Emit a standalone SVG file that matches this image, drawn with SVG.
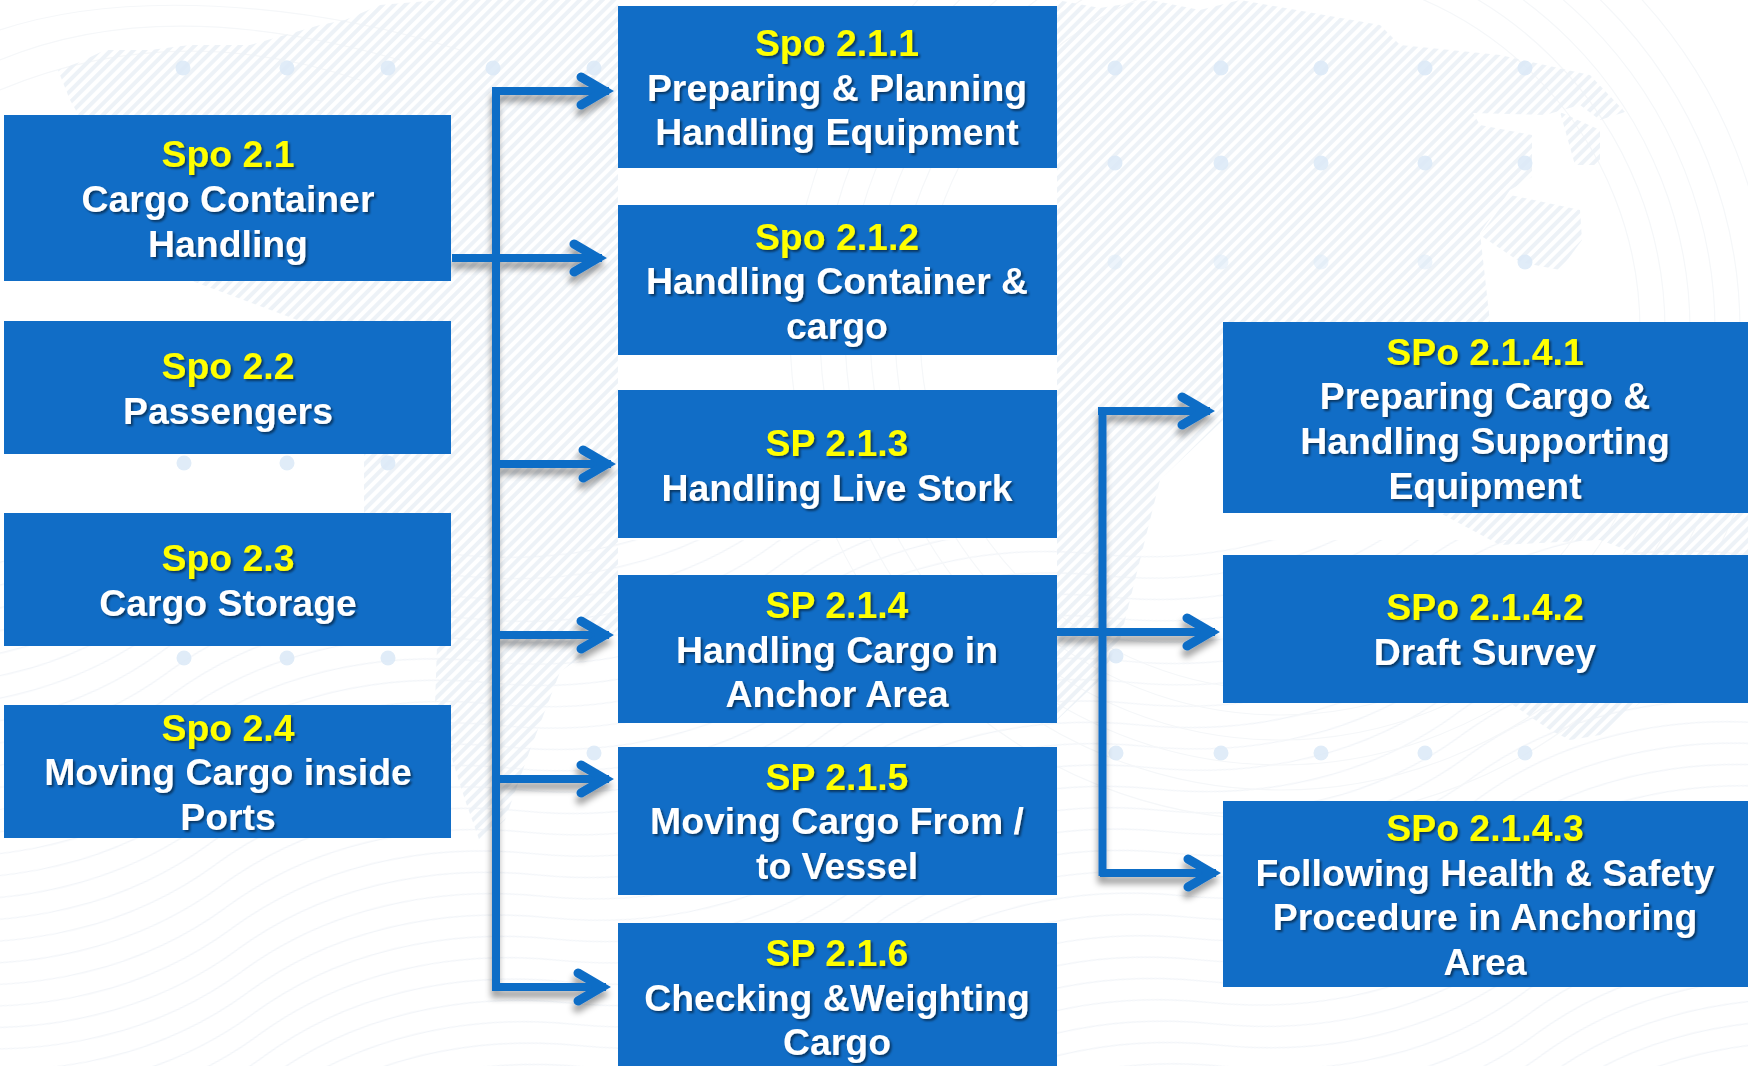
<svg xmlns="http://www.w3.org/2000/svg" width="1748" height="1066" viewBox="0 0 1748 1066">
<style>
.box{fill:#116dc6}
.t{font-family:"Liberation Sans",Arial,sans-serif;font-weight:700;font-size:37.4px;text-anchor:middle;fill:#fff;filter:url(#ts)}
.y{fill:#ffff00}
.l{fill:none;stroke:#116dc6;stroke-width:8;marker-end:url(#arr)}
.tr{fill:none;stroke:#116dc6;stroke-width:8}
.d{fill:#dbe9f7;opacity:.85}
.w{fill:none;stroke:#f1f4f8;stroke-width:1.2}
</style>
<defs>
<filter id="ts" x="-5%" y="-20%" width="110%" height="140%"><feDropShadow dx="2" dy="2" stdDeviation="1" flood-color="#000" flood-opacity="0.5"/></filter>
<filter id="cs" x="-5%" y="-5%" width="110%" height="110%"><feDropShadow dx="-1" dy="7" stdDeviation="3" flood-color="#000" flood-opacity="0.36"/></filter>
<filter id="bl"><feGaussianBlur stdDeviation="0.7"/></filter>
<marker id="arr" markerUnits="userSpaceOnUse" markerWidth="54" markerHeight="50" refX="41" refY="25" orient="auto" overflow="visible">
<path d="M13 11 L37 25 L13 39" fill="none" stroke="#116dc6" stroke-width="9" stroke-linecap="round"/>
</marker>
<pattern id="hatch" width="8" height="8" patternUnits="userSpaceOnUse" patternTransform="rotate(-45)">
<rect width="8" height="4" fill="#edf2f7"/>
</pattern>
<pattern id="wave" width="620" height="66" patternUnits="userSpaceOnUse" patternTransform="rotate(-14)">
<path class="w" d="M0 11 C100 -30 210 -25 310 11 S520 52 620 11"/>
<path class="w" d="M0 33 C100 -8 210 -3 310 33 S520 74 620 33"/>
<path class="w" d="M0 55 C100 14 210 19 310 55 S520 96 620 55"/>
<path class="w" d="M0 77 C100 36 210 41 310 77 S520 118 620 77"/>
<path class="w" d="M0 -11 C100 -52 210 -47 310 -11 S520 30 620 -11"/>
</pattern>
</defs>
<g id="background">
<rect width="1748" height="1066" fill="#fff"/>
<rect y="540" width="1748" height="526" fill="url(#wave)"/>
<g fill="none" stroke="#f5f7f9" stroke-width="1.2">
<circle cx="1280" cy="330" r="360"/><circle cx="1280" cy="330" r="385"/><circle cx="1280" cy="330" r="410"/><circle cx="1280" cy="330" r="435"/><circle cx="1280" cy="330" r="460"/><circle cx="1280" cy="330" r="490"/>
<path d="M0 60 C120 10 260 20 400 60"/><path d="M0 90 C120 40 240 40 360 80"/><path d="M0 30 C120 -10 300 0 460 50"/>
</g>
<g fill="url(#hatch)" filter="url(#bl)">
<path d="M58 70 L80 62 L105 50 L150 50 L190 45 L250 45 L320 25 L345 20 L380 5 L440 0 L618 0 L618 630 L560 672 L530 750 L505 820 L480 842 L465 800 L435 705 L437 646 L364 513 L364 454 L410 400 L410 321 L300 321 L192 281 L190 250 L120 180 L90 135 L70 100Z"/>
<path d="M1057 0 L1100 8 L1150 0 L1200 10 L1240 0 L1380 25 L1400 45 L1500 55 L1590 75 L1625 112 L1600 120 L1580 105 L1545 115 L1473 113 L1480 125 L1532 135 L1532 177 L1510 190 L1480 233 L1490 322 L1223 322 L1223 420 L1160 480 L1120 640 L1100 680 L1057 720Z"/>
<path d="M1560 112 L1600 130 L1600 165 L1575 165Z"/>
<path d="M1510 195 L1580 210 L1582 240 L1560 270 L1520 262 L1480 235Z"/>
<path d="M1440 513 L1748 513 L1748 555 L1640 555 L1600 540 L1500 545Z"/>
<path d="M1510 703 L1640 703 L1600 735 L1570 740 L1550 730Z"/>
</g>
<g class="d">
<circle cx="183" cy="68" r="7.5"/><circle cx="287" cy="68" r="7.5"/><circle cx="388" cy="68" r="7.500"/><circle cx="493" cy="68" r="7.5"/>
<circle cx="594" cy="68" r="7.5"/>
<circle cx="1115" cy="68" r="7.5"/><circle cx="1221" cy="68" r="7.5"/><circle cx="1321" cy="68" r="7.5"/><circle cx="1425" cy="68" r="7.5"/><circle cx="1525" cy="68" r="7.5"/>
<circle cx="1115" cy="163" r="7.5"/><circle cx="1221" cy="163" r="7.5"/><circle cx="1321" cy="163" r="7.5"/><circle cx="1425" cy="163" r="7.5"/><circle cx="1525" cy="163" r="7.5"/>
<circle cx="1115" cy="262" r="7.5" opacity=".6"/><circle cx="1221" cy="262" r="7.5" opacity=".6"/><circle cx="1321" cy="262" r="7.5" opacity=".6"/><circle cx="1425" cy="262" r="7.5" opacity=".6"/><circle cx="1525" cy="262" r="7.5"/>
<circle cx="184" cy="463" r="7.5"/><circle cx="287" cy="463" r="7.5"/><circle cx="388" cy="463" r="7.5"/>
<circle cx="184" cy="658" r="7.5"/><circle cx="287" cy="658" r="7.5"/><circle cx="388" cy="658" r="7.5"/>
<circle cx="594" cy="753" r="7.5"/><circle cx="1116" cy="656" r="7.5"/><circle cx="1116" cy="753" r="7.5"/>
<circle cx="1221" cy="753" r="7.5"/><circle cx="1321" cy="753" r="7.5"/><circle cx="1425" cy="753" r="7.5"/><circle cx="1525" cy="753" r="7.5"/>
</g>
</g>
<g id="connectors" filter="url(#cs)">
<path class="tr" d="M496 87 V991"/>
<path class="l" d="M492 91 H609"/>
<path class="l" d="M452 258 H602"/>
<path class="l" d="M500 464 H611"/>
<path class="l" d="M500 635 H609"/>
<path class="l" d="M500 779 H609"/>
<path class="l" d="M492 987 H606"/>
<path class="tr" d="M1102.500 407 V876"/>
<path class="l" d="M1098 411 H1210"/>
<path class="l" d="M1057 632 H1215"/>
<path class="l" d="M1100 873 H1216"/>
</g>
<g id="spo-2-1"><rect class="box" x="4" y="115" width="447" height="166"/><text class="t y" x="228" y="167">Spo 2.1</text><text class="t" x="228" y="212">Cargo Container</text><text class="t" x="228" y="257">Handling</text></g>
<g id="spo-2-2"><rect class="box" x="4" y="321" width="447" height="133"/><text class="t y" x="228" y="379">Spo 2.2</text><text class="t" x="228" y="424">Passengers</text></g>
<g id="spo-2-3"><rect class="box" x="4" y="513" width="447" height="133"/><text class="t y" x="228" y="571">Spo 2.3</text><text class="t" x="228" y="616">Cargo Storage</text></g>
<g id="spo-2-4"><rect class="box" x="4" y="705" width="447" height="133"/><text class="t y" x="228" y="741">Spo 2.4</text><text class="t" x="228" y="785">Moving Cargo inside</text><text class="t" x="228" y="830">Ports</text></g>
<g id="spo-2-1-1"><rect class="box" x="618" y="6" width="439" height="162"/><text class="t y" x="837" y="56">Spo 2.1.1</text><text class="t" x="837" y="101">Preparing &amp; Planning</text><text class="t" x="837" y="145">Handling Equipment</text></g>
<g id="spo-2-1-2"><rect class="box" x="618" y="205" width="439" height="150"/><text class="t y" x="837" y="250">Spo 2.1.2</text><text class="t" x="837" y="294">Handling Container &amp;</text><text class="t" x="837" y="339">cargo</text></g>
<g id="sp-2-1-3"><rect class="box" x="618" y="390" width="439" height="148"/><text class="t y" x="837" y="456">SP 2.1.3</text><text class="t" x="837" y="501">Handling Live Stork</text></g>
<g id="sp-2-1-4"><rect class="box" x="618" y="575" width="439" height="148"/><text class="t y" x="837" y="618">SP 2.1.4</text><text class="t" x="837" y="663">Handling Cargo in</text><text class="t" x="837" y="707">Anchor Area</text></g>
<g id="sp-2-1-5"><rect class="box" x="618" y="747" width="439" height="148"/><text class="t y" x="837" y="790">SP 2.1.5</text><text class="t" x="837" y="834">Moving Cargo From /</text><text class="t" x="837" y="879">to Vessel</text></g>
<g id="sp-2-1-6"><rect class="box" x="618" y="923" width="439" height="143"/><text class="t y" x="837" y="966">SP 2.1.6</text><text class="t" x="837" y="1011">Checking &amp;Weighting</text><text class="t" x="837" y="1055">Cargo</text></g>
<g id="spo-2-1-4-1"><rect class="box" x="1223" y="322" width="525" height="191"/><text class="t y" x="1485" y="365">SPo 2.1.4.1</text><text class="t" x="1485" y="409">Preparing Cargo &amp;</text><text class="t" x="1485" y="454">Handling Supporting</text><text class="t" x="1485" y="499">Equipment</text></g>
<g id="spo-2-1-4-2"><rect class="box" x="1223" y="555" width="525" height="148"/><text class="t y" x="1485" y="620">SPo 2.1.4.2</text><text class="t" x="1485" y="665">Draft Survey</text></g>
<g id="spo-2-1-4-3"><rect class="box" x="1223" y="801" width="525" height="186"/><text class="t y" x="1485" y="841">SPo 2.1.4.3</text><text class="t" x="1485" y="886">Following Health &amp; Safety</text><text class="t" x="1485" y="930">Procedure in Anchoring</text><text class="t" x="1485" y="975">Area</text></g>
</svg>
